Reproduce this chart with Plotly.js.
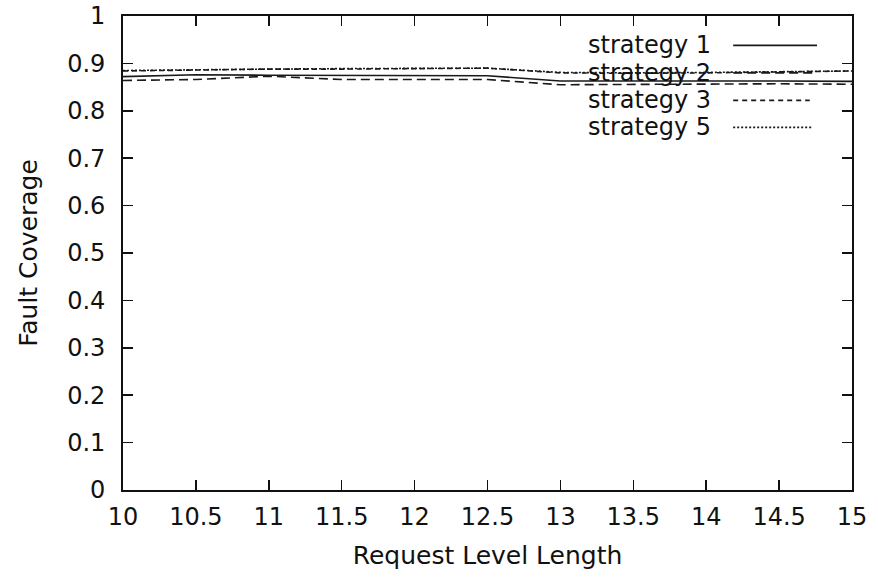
<!DOCTYPE html>
<html>
<head>
<meta charset="utf-8">
<script src="https://cdn.plot.ly/plotly-3.0.1.min.js"></script>
<style>html,body{margin:0;padding:0;background:#fff;}#chart{width:878px;height:577px;}</style>
</head>
<body>
<div id="chart"></div>
<script>
const xValues = [10, 10.5, 11, 11.5, 12, 12.5, 13, 13.5, 14, 14.5, 15];
const strategy1 = [0.872, 0.876, 0.875, 0.875, 0.874, 0.874, 0.863, 0.863, 0.864, 0.863, 0.862];
const strategy2 = [0.864, 0.866, 0.873, 0.866, 0.866, 0.866, 0.855, 0.856, 0.857, 0.857, 0.856];
const strategy3 = [0.884, 0.886, 0.888, 0.888, 0.889, 0.890, 0.880, 0.879, 0.880, 0.882, 0.884];
const strategy5 = [0.885, 0.887, 0.888, 0.889, 0.890, 0.890, 0.881, 0.880, 0.881, 0.883, 0.884];
const seriesNames = ["strategy 1", "strategy 2", "strategy 3", "strategy 5"];
const seriesValues = [strategy1, strategy2, strategy3, strategy5];
const dashes = ["solid", "9px,5px", "5px,4px", "2px,2px"];
const xTicks = [10, 10.5, 11, 11.5, 12, 12.5, 13, 13.5, 14, 14.5, 15];
const xTickLabels = ["10", "10.5", "11", "11.5", "12", "12.5", "13", "13.5", "14", "14.5", "15"];
const yTicks = [0, 0.1, 0.2, 0.3, 0.4, 0.5, 0.6, 0.7, 0.8, 0.9, 1];
const yTickLabels = ["0", "0.1", "0.2", "0.3", "0.4", "0.5", "0.6", "0.7", "0.8", "0.9", "1"];

const lineColor = "#1a1a1a";
const fam = "DejaVu Sans, Liberation Sans, Arial, sans-serif";
const traces = seriesValues.map((vals, i) => ({
  x: xValues, y: vals, type: "scatter", mode: "lines", name: seriesNames[i],
  line: {color: lineColor, width: 1.6, dash: dashes[i]}, showlegend: false
}));

const legendY = [0.938, 0.880, 0.822, 0.765];
const legendX1 = [0.952, 0.952, 0.942, 0.945];
const annotations = seriesNames.map((n, i) => ({
  xref: "paper", yref: "paper", x: 0.809, y: legendY[i], xanchor: "right", yanchor: "middle",
  text: n, showarrow: false, font: {family: fam, size: 24, color: "#111"}
}));
const shapes = seriesNames.map((n, i) => ({
  type: "line", xref: "paper", yref: "paper", x0: 0.837, x1: legendX1[i], y0: legendY[i], y1: legendY[i],
  line: {color: lineColor, width: 1.6, dash: dashes[i]}
}));

const tickFont = {family: fam, size: 24, color: "#111"};
const layout = {
  width: 878, height: 577,
  margin: {l: 123, r: 26, t: 16, b: 87},
  paper_bgcolor: "#fff", plot_bgcolor: "#fff",
  font: tickFont,
  xaxis: {
    range: [10, 15], tickvals: xTicks, ticktext: xTickLabels,
    ticks: "inside", ticklen: 10, tickwidth: 1.5, tickcolor: "#111",
    showline: true, linecolor: "#111", linewidth: 1.8, mirror: "allticks",
    showgrid: false, zeroline: false, ticklabelstandoff: 4,
    tickfont: tickFont,
    title: {text: "Request Level Length", font: {family: fam, size: 25, color: "#111"}, standoff: 17}
  },
  yaxis: {
    range: [0, 1], tickvals: yTicks, ticktext: yTickLabels,
    ticks: "inside", ticklen: 10, tickwidth: 1.5, tickcolor: "#111",
    showline: true, linecolor: "#111", linewidth: 1.8, mirror: "allticks",
    showgrid: false, zeroline: false, ticklabelstandoff: 11,
    tickfont: tickFont,
    title: {text: "Fault Coverage", font: {family: fam, size: 25, color: "#111"}, standoff: 22}
  },
  annotations: annotations,
  shapes: shapes,
  showlegend: false
};
Plotly.newPlot("chart", traces, layout, {displayModeBar: false, staticPlot: true});
</script>
</body>
</html>
